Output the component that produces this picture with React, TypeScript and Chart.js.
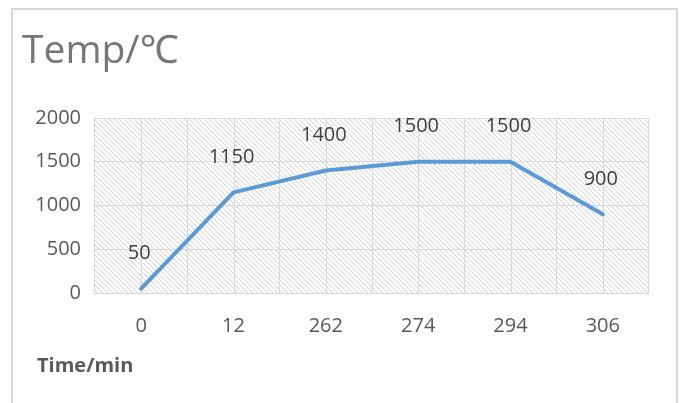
import React, { useEffect, useRef } from "react";
import { Chart, registerables } from "chart.js";

Chart.register(...registerables);

const categories = ["0", "12", "262", "274", "294", "306"];
const temps = [50, 1150, 1400, 1500, 1500, 900];
const yMin = 0;
const yMax = 2000;
const yStep = 500;
const titleText = "Temp/℃";
const xAxisTitle = "Time/min";

const FONT = '"Open Sans", "Noto Sans", sans-serif';
const GRID = "#d9d9d9";

function makeHatch(): CanvasPattern | string {
  const s = 5;
  const c = document.createElement("canvas");
  c.width = s;
  c.height = s;
  const g = c.getContext("2d");
  if (!g) return "#fff";
  g.fillStyle = "#ffffff";
  g.fillRect(0, 0, s, s);
  g.strokeStyle = "#d6d6d6";
  g.lineWidth = 1;
  for (const x0 of [-s, 0, s]) {
    g.beginPath();
    g.moveTo(x0, 0);
    g.lineTo(x0 + s, s);
    g.stroke();
  }
  const p = g.createPattern(c, "repeat");
  return p || "#fff";
}

const framePlugin = {
  id: "frame",
  beforeDraw(chart: any) {
    const ctx = chart.ctx;
    const { left, right, top, bottom } = chart.chartArea;
    ctx.save();
    ctx.fillStyle = "#ffffff";
    ctx.fillRect(0, 0, chart.width, chart.height);
    ctx.strokeStyle = GRID;
    ctx.lineWidth = 2;
    ctx.beginPath();
    ctx.moveTo(12, 420);
    ctx.lineTo(12, 9);
    ctx.lineTo(677, 9);
    ctx.lineTo(677, 420);
    ctx.stroke();
    ctx.fillStyle = makeHatch();
    ctx.fillRect(left, top, right - left, bottom - top);
    ctx.restore();
  },
  beforeDatasetsDraw(chart: any) {
    const ctx = chart.ctx;
    const xs = chart.scales.x;
    const { top, bottom } = chart.chartArea;
    ctx.save();
    ctx.strokeStyle = GRID;
    ctx.lineWidth = 1;
    for (let i = 0; i < categories.length; i++) {
      const x = Math.round(xs.getPixelForValue(i)) + 0.5;
      ctx.beginPath();
      ctx.moveTo(x, top);
      ctx.lineTo(x, bottom);
      ctx.stroke();
    }
    ctx.restore();
  },
  afterDatasetsDraw(chart: any) {
    const ctx = chart.ctx;
    const meta = chart.getDatasetMeta(0);
    ctx.save();
    ctx.font = `20px ${FONT}`;
    ctx.fillStyle = "#404040";
    ctx.textAlign = "center";
    ctx.textBaseline = "middle";
    meta.data.forEach((pt: any, i: number) => {
      ctx.fillText(String(temps[i]), pt.x - 2, pt.y - 35);
    });
    ctx.restore();
  },
  afterDraw(chart: any) {
    const ctx = chart.ctx;
    ctx.save();
    ctx.textAlign = "left";
    ctx.textBaseline = "alphabetic";
    ctx.fillStyle = "#767676";
    ctx.font = `39px ${FONT}, "DejaVu Serif", "Noto Sans CJK SC"`;
    ctx.fillText(titleText, 22, 63);
    ctx.fillStyle = "#595959";
    ctx.font = `bold 20px ${FONT}`;
    ctx.fillText(xAxisTitle, 37, 372);
    ctx.restore();
  },
};

export default function App() {
  const ref = useRef<HTMLCanvasElement | null>(null);
  useEffect(() => {
    if (!ref.current) return;
    const chart = new Chart(ref.current, {
      type: "line",
      data: {
        labels: categories,
        datasets: [
          {
            data: temps,
            borderColor: "#5B9BD5",
            borderWidth: 4,
            pointRadius: 0,
            borderJoinStyle: "round",
            borderCapStyle: "round",
            tension: 0,
            fill: false,
          },
        ],
      },
      options: {
        animation: false,
        responsive: false,
        devicePixelRatio: 1,
        layout: { padding: { top: 118, left: 0, right: 31, bottom: 0 } },
        plugins: {
          legend: { display: false },
          title: { display: false },
          tooltip: { enabled: false },
        },
        scales: {
          x: {
            type: "category",
            offset: true,
            grid: { color: GRID, lineWidth: 1, drawTicks: false, offset: true },
            border: { display: false },
            ticks: {
              color: "#595959",
              font: { family: FONT, size: 20 },
              padding: 21,
              maxRotation: 0,
            },
            afterFit(scale: any) {
              scale.height = 110;
            },
          },
          y: {
            min: yMin,
            max: yMax,
            grid: { color: GRID, lineWidth: 1, drawTicks: false },
            border: { display: false },
            ticks: {
              stepSize: yStep,
              color: "#595959",
              font: { family: FONT, size: 20 },
              padding: 14,
              callback: (v: any) => String(v),
            },
            afterFit(scale: any) {
              scale.width = 95;
            },
          },
        },
      },
      plugins: [framePlugin],
    } as any);
    return () => chart.destroy();
  }, []);
  return (
    <div style={{ position: "fixed", left: 0, top: 0, width: 680, height: 403, background: "#fff" }}>
      <canvas ref={ref} width={680} height={403} style={{ width: 680, height: 403, display: "block" }} />
    </div>
  );
}
